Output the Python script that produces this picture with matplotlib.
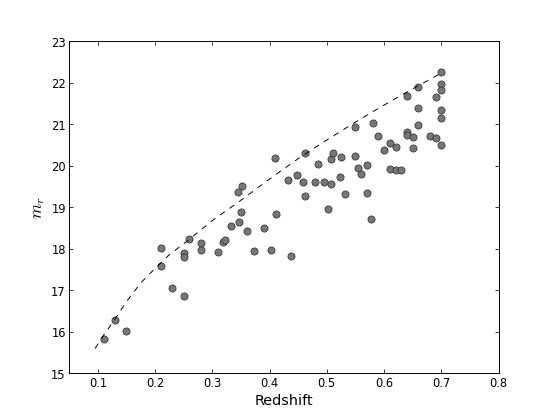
import matplotlib
matplotlib.use("Agg")
import matplotlib.pyplot as plt

# galaxy redshifts and r-band magnitudes
redshift = [0.11, 0.13, 0.15, 0.21, 0.21, 0.23, 0.25, 0.25, 0.25, 0.26,
            0.28, 0.28, 0.31, 0.319, 0.322, 0.333, 0.344, 0.352, 0.347, 0.35,
            0.36, 0.373, 0.39, 0.402, 0.412, 0.437, 0.432, 0.458, 0.462, 0.409,
            0.447, 0.462, 0.479, 0.484, 0.502, 0.507, 0.51, 0.508, 0.524, 0.523,
            0.532, 0.55, 0.55, 0.555, 0.56, 0.57, 0.57, 0.577, 0.58, 0.59,
            0.60, 0.61, 0.62, 0.61, 0.62, 0.63, 0.64, 0.64, 0.64, 0.65,
            0.65, 0.66, 0.66, 0.66, 0.68, 0.69, 0.69, 0.70, 0.70, 0.70,
            0.70, 0.70, 0.70, 0.495]
mag_r = [15.82, 16.28, 16.02, 18.02, 17.58, 17.06, 17.89, 17.80, 16.87, 18.24,
         18.13, 17.98, 17.92, 18.16, 18.22, 18.56, 19.37, 19.52, 18.65, 18.88,
         18.42, 17.94, 18.50, 17.96, 18.83, 17.82, 19.66, 19.60, 19.26, 20.18,
         19.78, 20.31, 19.60, 20.04, 18.96, 20.16, 20.30, 19.55, 20.21, 19.74,
         19.33, 20.23, 20.94, 19.95, 19.80, 20.02, 19.35, 18.72, 21.02, 20.72,
         20.38, 20.54, 20.45, 19.93, 19.90, 19.89, 21.67, 20.80, 20.74, 20.70,
         20.43, 21.90, 21.39, 20.97, 20.71, 20.67, 21.66, 22.25, 21.97, 21.83,
         21.35, 21.14, 20.51, 19.60]

# dashed limiting-magnitude curve, sampled along the drawn line
curve_z = [0.095, 0.11, 0.13, 0.15, 0.175, 0.20, 0.225, 0.25, 0.30, 0.35,
           0.40, 0.45, 0.50, 0.55, 0.60, 0.65, 0.70]
curve_m = [15.60, 15.92, 16.31, 16.73, 17.18, 17.53, 17.86, 18.12, 18.68, 19.17,
           19.68, 20.17, 20.62, 21.05, 21.46, 21.85, 22.23]

plt.rcParams['xtick.direction'] = 'in'
plt.rcParams['ytick.direction'] = 'in'
plt.rcParams['xtick.top'] = True
plt.rcParams['ytick.right'] = True
plt.rcParams['font.size'] = 12
plt.rcParams['mathtext.fontset'] = 'cm'

fig = plt.figure(figsize=(8, 6), dpi=69.25)
ax = fig.add_subplot(111)

ax.scatter(redshift, mag_r, s=55, c='#777777', edgecolors='#333333', linewidths=0.8, zorder=2)
ax.plot(curve_z, curve_m, color='k', ls='--', dashes=(6, 6), lw=1.0, zorder=3)

ax.set_xlim(0.05, 0.8)
ax.set_ylim(15, 23)
ax.set_xticks([0.1, 0.2, 0.3, 0.4, 0.5, 0.6, 0.7, 0.8])
ax.set_yticks(range(15, 24))
ax.tick_params(length=4, width=0.8)
for s in ax.spines.values():
    s.set_linewidth(1.0)

ax.set_xlabel('Redshift', fontsize=15)
ax.set_ylabel('$m_r$', fontsize=18)

plt.subplots_adjust(left=0.125, right=0.9, bottom=0.1, top=0.9)
fig.savefig('out.png', dpi=69.25)
